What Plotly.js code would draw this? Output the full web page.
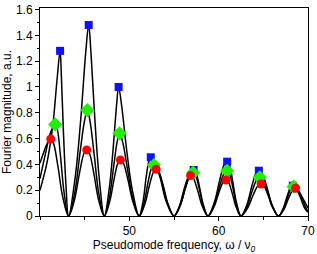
<!DOCTYPE html>
<html>
<head>
<meta charset="utf-8">
<script src="https://cdn.plot.ly/plotly-3.0.1.min.js"></script>
<style>html,body{margin:0;padding:0;background:#fff;}#chart{width:317px;height:254px;}</style>
</head>
<body>
<div id="chart"></div>
<script>
// Fitted curves (black lines)
const curveBlueX = [40, 40.8, 41.43, 41.9, 42.25, 42.39, 42.63, 42.89, 43.2,
  43.94, 44.55, 45.11, 45.45, 45.71, 46.15, 46.62, 47.2,
  47.73, 48.16, 48.56, 48.8, 49.15, 49.72, 50.34, 51.1,
  51.53, 51.88, 52.21, 52.4, 52.79, 53.44, 54.14, 55.0,
  55.73, 56.32, 56.87, 57.2, 57.44, 57.84, 58.27, 58.8,
  59.51, 60.09, 60.63, 60.95, 61.18, 61.57, 61.99, 62.5,
  63.16, 63.7, 64.2, 64.5, 64.83, 65.38, 65.97, 66.7,
  67.23, 67.66, 68.06, 68.3, 68.6, 69.1, 69.64, 70];
const curveBlueY = [0.20, 0.42, 0.70, 1.05, 1.28, 1.09, 0.64, 0.26, 0,
  0.30, 0.74, 1.26, 1.48, 1.26, 0.74, 0.30, 0,
  0.20, 0.50, 0.85, 1.00, 0.85, 0.50, 0.20, 0,
  0.11, 0.30, 0.43, 0.455, 0.43, 0.30, 0.11, 0,
  0.09, 0.23, 0.34, 0.357, 0.34, 0.23, 0.09, 0,
  0.105, 0.27, 0.40, 0.421, 0.40, 0.27, 0.105, 0,
  0.088, 0.228, 0.333, 0.351, 0.333, 0.228, 0.088, 0,
  0.059, 0.153, 0.223, 0.235, 0.223, 0.153, 0.059, 0.03];

const curveGreenX = [40, 40.6, 41.2, 41.7, 41.93, 42.3, 42.7, 43.2,
  43.89, 44.46, 44.99, 45.3, 45.59, 46.06, 46.57, 47.2,
  47.76, 48.22, 48.65, 48.9, 49.23, 49.78, 50.37, 51.1,
  51.64, 52.09, 52.5, 52.75, 53.09, 53.65, 54.26, 55.0,
  55.71, 56.29, 56.83, 57.15, 57.40, 57.81, 58.26, 58.8,
  59.51, 60.09, 60.63, 60.95, 61.18, 61.57, 61.99, 62.5,
  63.19, 63.76, 64.29, 64.6, 64.92, 65.44, 66.01, 66.7,
  67.26, 67.72, 68.15, 68.4, 68.72, 69.24, 69.81, 70];
const curveGreenY = [0.29, 0.48, 0.65, 0.71, 0.675, 0.46, 0.18, 0,
  0.18, 0.48, 0.74, 0.82, 0.74, 0.48, 0.18, 0,
  0.14, 0.37, 0.58, 0.641, 0.58, 0.37, 0.14, 0,
  0.10, 0.26, 0.375, 0.395, 0.375, 0.26, 0.10, 0,
  0.084, 0.218, 0.318, 0.335, 0.318, 0.218, 0.084, 0,
  0.087, 0.227, 0.332, 0.349, 0.332, 0.227, 0.087, 0,
  0.075, 0.195, 0.285, 0.30, 0.285, 0.195, 0.075, 0,
  0.057, 0.148, 0.216, 0.227, 0.216, 0.148, 0.057, 0.035];

const curveRedX = [40, 40.4, 40.8, 41.2, 41.5, 42.0, 42.54, 43.2,
  43.87, 44.42, 44.93, 45.23, 45.53, 46.02, 46.55, 47.2,
  47.79, 48.28, 48.73, 49.0, 49.32, 49.84, 50.41, 51.1,
  51.73, 52.24, 52.72, 53.0, 53.3, 53.8, 54.34, 55.0,
  55.61, 56.11, 56.57, 56.85, 57.14, 57.63, 58.16, 58.8,
  59.47, 60.02, 60.53, 60.84, 61.09, 61.5, 61.95, 62.5,
  63.24, 63.85, 64.41, 64.75, 65.04, 65.53, 66.06, 66.7,
  67.33, 67.84, 68.32, 68.6, 68.9, 69.4, 70];
const curveRedY = [0.41, 0.49, 0.56, 0.597, 0.567, 0.388, 0.149, 0,
  0.128, 0.333, 0.486, 0.512, 0.486, 0.333, 0.128, 0,
  0.109, 0.282, 0.412, 0.434, 0.412, 0.282, 0.109, 0,
  0.091, 0.235, 0.344, 0.362, 0.344, 0.235, 0.091, 0,
  0.078, 0.203, 0.297, 0.313, 0.297, 0.203, 0.078, 0,
  0.07, 0.181, 0.265, 0.279, 0.265, 0.181, 0.07, 0,
  0.062, 0.161, 0.236, 0.248, 0.236, 0.161, 0.062, 0,
  0.054, 0.14, 0.204, 0.215, 0.20, 0.14, 0.06];

// Peak markers
const peakBlueX = [42.25, 45.45, 48.8, 52.4, 57.2, 60.95, 64.5, 68.3];
const peakBlueY = [1.28, 1.48, 1.0, 0.455, 0.357, 0.421, 0.351, 0.235];
const peakGreenX = [41.7, 45.3, 48.9, 52.75, 57.15, 60.95, 64.6, 68.4];
const peakGreenY = [0.71, 0.82, 0.641, 0.395, 0.335, 0.349, 0.30, 0.227];
const peakRedX = [41.2, 45.23, 49.0, 53.0, 56.85, 60.84, 64.75, 68.6];
const peakRedY = [0.597, 0.512, 0.434, 0.362, 0.313, 0.279, 0.248, 0.215];

const xTickVals = [50, 60, 70];
const xMinorVals = [40, 45, 55, 65];

const lineStyle = {color: '#000', width: 1.5, shape: 'spline', smoothing: 1};
const traces = [
  {x: curveBlueX, y: curveBlueY, mode: 'lines', line: lineStyle, hoverinfo: 'skip'},
  {x: curveGreenX, y: curveGreenY, mode: 'lines', line: lineStyle, hoverinfo: 'skip'},
  {x: curveRedX, y: curveRedY, mode: 'lines', line: lineStyle, hoverinfo: 'skip'},
  {x: peakBlueX, y: peakBlueY, mode: 'markers', marker: {symbol: 'square', size: 8, color: '#1010ff'}},
  {x: peakGreenX, y: peakGreenY, mode: 'markers', marker: {symbol: 'diamond', size: 11, color: '#22ee00'}},
  {x: peakRedX, y: peakRedY, mode: 'markers', marker: {symbol: 'circle', size: 9, color: '#ff0000'}}
];

const font = {family: '"Liberation Sans", Arial, sans-serif', size: 12, color: '#000'};
const layout = {
  width: 317, height: 254,
  margin: {l: 40, r: 9, t: 8, b: 38},
  showlegend: false,
  paper_bgcolor: '#fff', plot_bgcolor: '#fff',
  font: font,
  xaxis: {
    range: [40, 70], tickvals: xTickVals,
    ticks: 'outside', ticklen: 4, tickwidth: 1, tickcolor: '#000',
    showline: true, linecolor: '#000', linewidth: 1, mirror: true,
    showgrid: false, zeroline: false,
    minor: {tickvals: xMinorVals, ticks: 'outside', ticklen: 3, tickcolor: '#000', showgrid: false},
    tickfont: font,
    title: {text: 'Pseudomode frequency, ω / ν<sub><i>0</i></sub>', font: font, standoff: 1}
  },
  yaxis: {
    range: [0, 1.612], dtick: 0.2, tick0: 0,
    ticks: 'outside', ticklen: 4, tickwidth: 1, tickcolor: '#000',
    showline: true, linecolor: '#000', linewidth: 1, mirror: true,
    showgrid: false, zeroline: false,
    minor: {dtick: 0.1, ticks: 'outside', ticklen: 2, tickcolor: '#000', showgrid: false},
    tickfont: font,
    title: {text: 'Fourier magnitude, a.u.', font: font, standoff: 1}
  }
};
Plotly.newPlot('chart', traces, layout, {displayModeBar: false, staticPlot: true});
</script>
</body>
</html>
